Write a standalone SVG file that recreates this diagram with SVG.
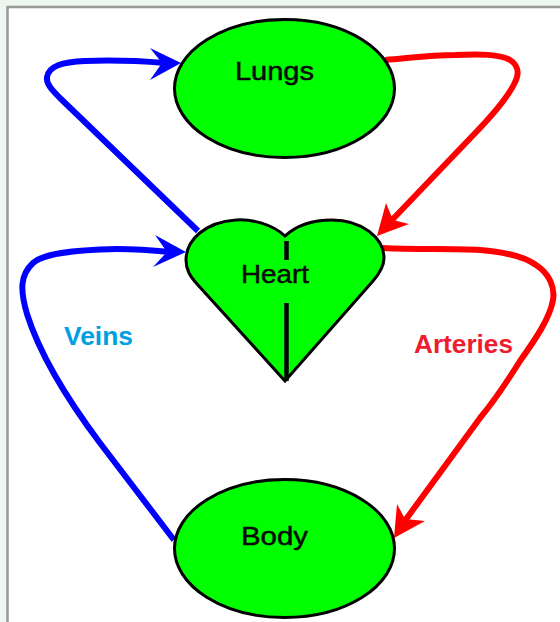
<svg xmlns="http://www.w3.org/2000/svg" width="560" height="622" viewBox="0 0 560 622">
<style>
.node{fill:#00ff00;stroke:#000;stroke-width:3}
.lbl{font-family:"Liberation Sans",Arial,sans-serif;font-size:26px;fill:#0a0a0a;stroke:#0a0a0a;stroke-width:.5;text-anchor:middle}
.tag{font-family:"Liberation Sans",Arial,sans-serif;font-size:26px;font-weight:bold}
.b{fill:none;stroke:#0000ff;stroke-width:6}
.r{fill:none;stroke:#ff0000;stroke-width:6}
</style>
<rect width="560" height="622" fill="#eef6f0"/>
<rect x="7.500" y="7" width="560" height="630" fill="#fff" stroke="#999" stroke-width="2.500"/>
<g id="connectors">
<path class="b" d="M198 231L62 100C50 88.400 46 83 47 77C49 66 62 62 85 61C110 60 140 61 165 63"/>
<path d="M181 63L150 48L162 63L150 80Z" fill="#0000ff"/>
<path class="b" d="M174 540L100 443C70 403 40 355 27 314C20 290 20 275 33 263C43 254 70 250 117 249C135 249 150 250 170 252"/>
<path d="M186 252L155 235L167 252L153 267Z" fill="#0000ff"/>
<path class="r" d="M385 60C410 58 430 55 455 55C480 54 500 54 510 60C518 65 519 73 516 80C510 95 495 112 480 128L392 220"/>
<path d="M377 236L386 203L393 220L409 224Z" fill="#ff0000"/>
<path class="r" d="M382 248C420 250 450 248 480 250C505 252 525 257 536 265C550 274 555 288 553 300C550 318 535 340 520 361C505 385 495 400 480 418L404 522"/>
<path d="M394 538L397 504L405 519L425 521Z" fill="#ff0000"/>
</g>
<g id="lungs"><ellipse class="node" cx="284.500" cy="88.500" rx="110" ry="69"/><text class="lbl" x="274.500" y="80" textLength="79" lengthAdjust="spacingAndGlyphs">Lungs</text></g>
<g id="heart"><path class="node" d="M285 236C272 224 252 219 236 220C205 222 186 240 186 260C186 270 190 276 197 284L285 381L373 281C380 273 384 266 384 258C384 238 362 220 332 220C316 220 298 224 285 236Z"/>
<path d="M286.500 241V260M286.500 303V381" stroke="#000" stroke-width="4.500" fill="none"/>
<text class="lbl" x="275" y="283" textLength="68" lengthAdjust="spacingAndGlyphs">Heart</text></g>
<g id="body"><ellipse class="node" cx="284.500" cy="548.500" rx="110" ry="69"/><text class="lbl" x="274.500" y="545" textLength="67" lengthAdjust="spacingAndGlyphs">Body</text></g>
<text class="tag" x="64" y="345" fill="#00a0e0" textLength="69" lengthAdjust="spacingAndGlyphs">Veins</text>
<text class="tag" x="414" y="353" fill="#ed1c2e" textLength="99" lengthAdjust="spacingAndGlyphs">Arteries</text>
</svg>
